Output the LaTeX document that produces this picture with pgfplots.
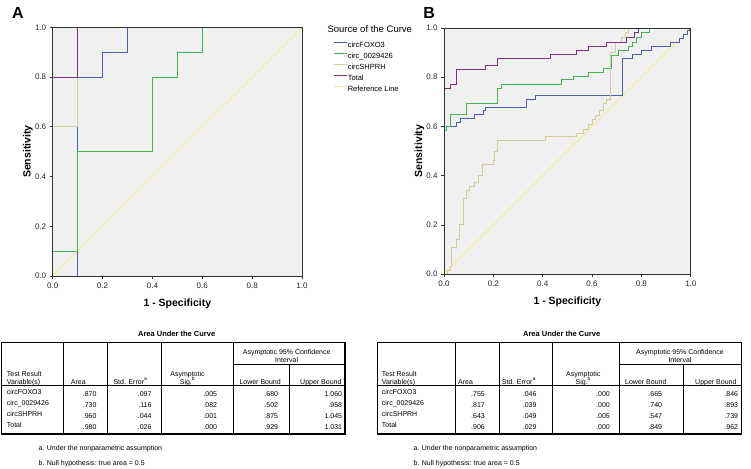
\documentclass[border=0pt]{standalone}
\usepackage{fontspec}
\setmainfont{Liberation Sans}
\usepackage{pgfplots}
\pgfplotsset{compat=1.18}
\definecolor{cblue}{RGB}{75,95,175}
\definecolor{cgreen}{RGB}{70,180,80}
\definecolor{ctan}{RGB}{212,206,158}
\definecolor{cpurple}{RGB}{128,50,128}
\definecolor{cref}{RGB}{245,236,150}
\definecolor{bgray}{RGB}{240,240,240}
\newcommand{\tf}{\fontsize{7}{8}\selectfont}
\newcommand{\lf}{\fontsize{10.5}{12}\selectfont\bfseries}
\pgfplotsset{rocaxis/.style={
  scale only axis, anchor=south west,
  xmin=0,xmax=1,ymin=0,ymax=1,
  xtick={0,0.2,0.4,0.6,0.8,1}, ytick={0,0.2,0.4,0.6,0.8,1},
  xtick pos=lower, ytick pos=left,
  tick align=outside, major tick length=3pt,
  tick style={black!80, line width=0.6pt},
  xticklabel style={/pgf/number format/.cd, fixed, fixed zerofill, precision=1},
  yticklabel style={/pgf/number format/.cd, fixed, fixed zerofill, precision=1},
  /pgf/number format/assume math mode=true,
  tick label style={font=\fontsize{8}{9}\selectfont, text=black!85},
  axis background/.style={fill=bgray},
  axis line style={black!80, line width=0.8pt},
  axis on top, clip=false,
  xlabel={1 - Specificity}, ylabel={Sensitivity},
  every axis x label/.style={at={(axis description cs:0.5,0)}, anchor=center, yshift=-28pt, font=\lf},
  every axis y label/.style={at={(axis description cs:-0.099,0.5)}, anchor=center, rotate=90, font=\lf},
  every axis plot/.append style={line width=0.9pt},
}}
\begin{document}
\begin{tikzpicture}
\begin{scope}[x=1pt,y=-1pt]
\path[use as bounding box] (0,0) rectangle (751,468);
\node[font=\bfseries\fontsize{16}{18}\selectfont] at (17.8,12.8) {A};
\node[font=\bfseries\fontsize{16}{18}\selectfont] at (429.2,12.5) {B};
\node[anchor=west, inner sep=0pt, font=\fontsize{9.5}{11}\selectfont] at (327.3,29) {Source of the Curve};
\end{scope}

\begin{axis}[rocaxis, at={(52.7pt,-276pt)}, width=249.3pt, height=248.7pt,
  legend style={at={(axis description cs:1.1256,0.945)}, anchor=north west, draw=none, fill=none,
    inner sep=0pt, font=\fontsize{7.5}{8}\selectfont, row sep=3.5pt,
    nodes={inner sep=0pt, text height=6pt, text depth=1.5pt},
    /tikz/every even column/.append style={column sep=2.6pt}},
  legend cell align=left,
  legend image code/.code={\draw[#1, line width=0.9pt] (0pt,2.7pt) -- (13.4pt,2.7pt);}]
\addplot[cref, forget plot] coordinates {(0,0) (1,1)};
\addplot[cblue] coordinates {(0,0) (0.1,0) (0.1,0.8) (0.2,0.8) (0.2,0.9) (0.3,0.9) (0.3,1) (1,1)};
\addlegendentry{circFOXO3}
\addplot[cgreen] coordinates {(0,0) (0,0.1) (0.1,0.1) (0.1,0.5) (0.4,0.5) (0.4,0.8) (0.5,0.8) (0.5,0.9) (0.6,0.9) (0.6,1) (1,1)};
\addlegendentry{circ\_0029426}
\addplot[ctan] coordinates {(0,0) (0,0.6) (0.1,0.6) (0.1,1) (1,1)};
\addlegendentry{circSHPRH}
\addplot[cpurple] coordinates {(0,0) (0,0.8) (0.1,0.8) (0.1,1) (1,1)};
\addlegendentry{Total}
\addlegendimage{cref}
\addlegendentry{Reference Line}
\end{axis}

\begin{axis}[rocaxis, at={(444pt,-274pt)}, width=246.7pt, height=246pt,
  every axis y label/.style={at={(axis description cs:-0.1,0.5)}, anchor=center, rotate=90, font=\lf}]
\addplot[cref] coordinates {(0,0) (1,1)};
\addplot[cblue] coordinates {(0,0) (0,0.585) (0.011,0.585) (0.011,0.599) (0.049,0.599) (0.049,0.617) (0.065,0.617) (0.065,0.633) (0.122,0.633) (0.122,0.649) (0.16,0.649) (0.16,0.663) (0.17,0.663) (0.17,0.678) (0.335,0.678) (0.335,0.71) (0.37,0.71) (0.37,0.726) (0.723,0.726) (0.723,0.876) (0.765,0.876) (0.765,0.892) (0.8,0.892) (0.8,0.909) (0.842,0.909) (0.842,0.927) (0.916,0.927) (0.916,0.943) (0.953,0.943) (0.953,0.958) (0.97,0.958) (0.97,0.975) (0.985,0.975) (0.985,0.99) (0.994,0.99) (0.994,1) (1,1)};
\addplot[cgreen] coordinates {(0,0) (0,0.585) (0.011,0.585) (0.011,0.599) (0.028,0.599) (0.028,0.649) (0.092,0.649) (0.092,0.694) (0.218,0.694) (0.218,0.755) (0.234,0.755) (0.234,0.771) (0.477,0.771) (0.477,0.789) (0.524,0.789) (0.524,0.802) (0.585,0.802) (0.585,0.818) (0.646,0.818) (0.646,0.835) (0.68,0.835) (0.68,0.889) (0.707,0.889) (0.707,0.909) (0.747,0.909) (0.747,0.927) (0.763,0.927) (0.763,0.943) (0.781,0.943) (0.781,0.963) (0.801,0.963) (0.801,0.98) (0.831,0.98) (0.831,1) (1,1)};
\addplot[ctan] coordinates {(0,0) (0.015,0) (0.015,0.013) (0.025,0.013) (0.025,0.03) (0.032,0.03) (0.032,0.108) (0.049,0.108) (0.049,0.141) (0.062,0.141) (0.062,0.202) (0.078,0.202) (0.078,0.308) (0.092,0.308) (0.092,0.339) (0.105,0.339) (0.105,0.355) (0.122,0.355) (0.122,0.371) (0.139,0.371) (0.139,0.402) (0.155,0.402) (0.155,0.447) (0.2,0.447) (0.2,0.463) (0.203,0.463) (0.203,0.497) (0.218,0.497) (0.218,0.542) (0.412,0.542) (0.412,0.558) (0.538,0.558) (0.538,0.572) (0.565,0.572) (0.565,0.588) (0.585,0.588) (0.585,0.606) (0.6,0.606) (0.6,0.63) (0.615,0.63) (0.615,0.645) (0.63,0.645) (0.63,0.665) (0.645,0.665) (0.645,0.694) (0.66,0.694) (0.66,0.71) (0.676,0.71) (0.676,0.902) (0.693,0.902) (0.693,0.943) (0.72,0.943) (0.72,0.963) (0.737,0.963) (0.737,0.98) (0.747,0.98) (0.747,1) (1,1)};
\addplot[cpurple] coordinates {(0,0) (0,0.755) (0.028,0.755) (0.028,0.771) (0.049,0.771) (0.049,0.833) (0.169,0.833) (0.169,0.847) (0.218,0.847) (0.218,0.878) (0.431,0.878) (0.431,0.894) (0.538,0.894) (0.538,0.909) (0.585,0.909) (0.585,0.925) (0.66,0.925) (0.66,0.942) (0.74,0.942) (0.74,0.963) (0.77,0.963) (0.77,0.98) (0.79,0.98) (0.79,1) (1,1)};
\end{axis}

\begin{scope}[x=1pt,y=-1pt, every node/.style={inner sep=0pt, font=\tf}]
% ---------- Table A ----------
\node[font=\bfseries\fontsize{7.5}{9}\selectfont] at (176.7,334) {Area Under the Curve};
\draw[line width=1.1pt] (1.7,342.6) rectangle (345,434);
\draw[line width=0.9pt] (63.3,342.6) -- (63.3,434) (1.7,385.5) -- (345,385.5);
\draw[line width=0.5pt] (107.3,342.6)--(107.3,434) (161,342.6)--(161,434) (233.3,342.6)--(233.3,434) (289.3,364.5)--(289.3,434) (233.3,364.5)--(345,364.5);
\node[anchor=base] at (286.7,354) {Asymptotic 95\% Confidence};
\node[anchor=base] at (286.7,362) {Interval};
\node[anchor=base west] at (6.7,376) {Test Result};
\node[anchor=base west] at (6.7,384) {Variable(s)};
\node[anchor=base west] at (70.7,384) {Area};
\node[anchor=base west] at (113.3,384) {Std. Error\textsuperscript{a}};
\node[anchor=base] at (187.5,376) {Asymptotic};
\node[anchor=base] at (187.5,384) {Sig.\textsuperscript{b}};
\node[anchor=base west] at (239.3,384) {Lower Bound};
\node[anchor=base west] at (300,384) {Upper Bound};
\foreach \y/\n/\a/\b/\c/\d/\e in {394.5/circFOXO3/.870/.097/.005/.680/1.060, 405.5/circ\_0029426/.730/.116/.082/.502/.958, 416.5/circSHPRH/.960/.044/.001/.875/1.045, 427.5/Total/.980/.026/.000/.929/1.031}{
  \node[anchor=base west] at (6.7,\y) {\n};
  \node[anchor=base east] at (96.7,\y+1.5) {\a};
  \node[anchor=base east] at (151.7,\y+1.5) {\b};
  \node[anchor=base east] at (217.3,\y+1.5) {\c};
  \node[anchor=base east] at (278.3,\y+1.5) {\d};
  \node[anchor=base east] at (342.3,\y+1.5) {\e};
}
\node[anchor=base west] at (38.3,450) {a. Under the nonparametric assumption};
\node[anchor=base west] at (38.3,465.5) {b. Null hypothesis: true area = 0.5};
% ---------- Table B ----------
\node[font=\bfseries\fontsize{7.5}{9}\selectfont] at (561.7,334) {Area Under the Curve};
\draw[line width=1.1pt] (377.7,342.6) rectangle (741.7,434);
\draw[line width=0.9pt] (455,342.6) -- (455,434) (377.7,385.5) -- (741.7,385.5);
\draw[line width=0.5pt] (499,342.6)--(499,434) (552.3,342.6)--(552.3,434) (619,342.6)--(619,434) (683.3,364.5)--(683.3,434) (619,364.5)--(741.7,364.5);
\node[anchor=base] at (680,354) {Asymptotic 95\% Confidence};
\node[anchor=base] at (680,362) {Interval};
\node[anchor=base west] at (381.7,376) {Test Result};
\node[anchor=base west] at (381.7,384) {Variable(s)};
\node[anchor=base west] at (458,384) {Area};
\node[anchor=base west] at (501.7,384) {Std. Error\textsuperscript{a}};
\node[anchor=base] at (583.3,376) {Asymptotic};
\node[anchor=base] at (583.3,384) {Sig.\textsuperscript{b}};
\node[anchor=base west] at (625,384) {Lower Bound};
\node[anchor=base west] at (695,384) {Upper Bound};
\foreach \y/\n/\a/\b/\c/\d/\e in {394.5/circFOXO3/.755/.046/.000/.665/.846, 405.5/circ\_0029426/.817/.039/.000/.740/.893, 416.5/circSHPRH/.643/.049/.005/.547/.739, 427.5/Total/.906/.029/.000/.849/.962}{
  \node[anchor=base west] at (381.7,\y) {\n};
  \node[anchor=base east] at (485,\y+1.5) {\a};
  \node[anchor=base east] at (536.7,\y+1.5) {\b};
  \node[anchor=base east] at (610,\y+1.5) {\c};
  \node[anchor=base east] at (662.3,\y+1.5) {\d};
  \node[anchor=base east] at (738.3,\y+1.5) {\e};
}
\node[anchor=base west] at (413.3,450) {a. Under the nonparametric assumption};
\node[anchor=base west] at (413.3,465.5) {b. Null hypothesis: true area = 0.5};
\end{scope}
\end{tikzpicture}
\end{document}
